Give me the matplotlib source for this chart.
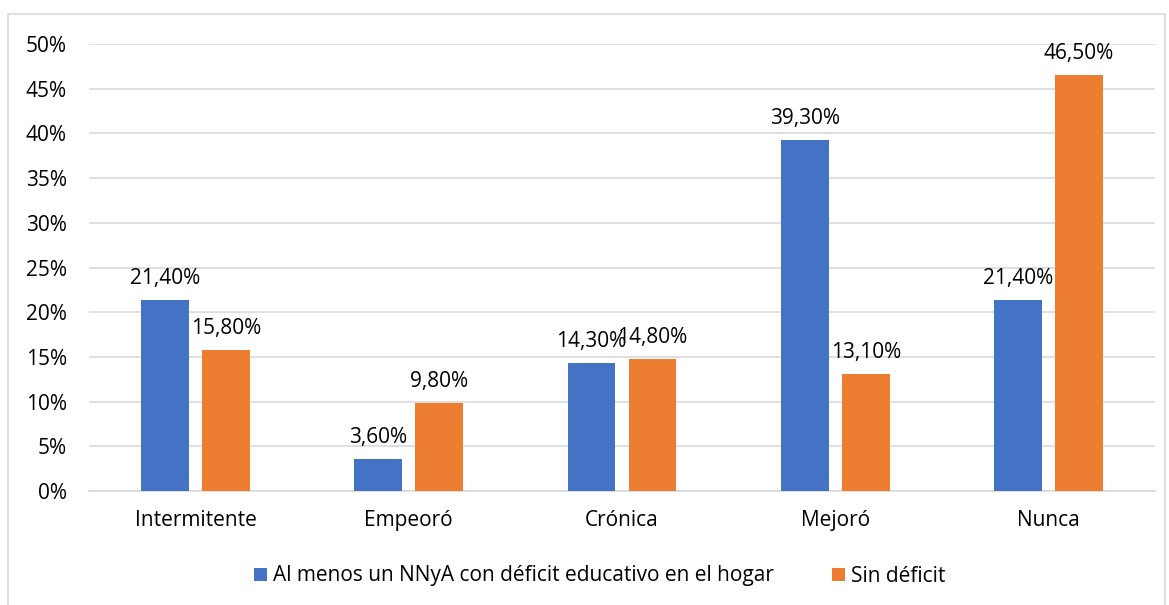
import matplotlib.pyplot as plt
import numpy as np
from matplotlib.patches import Rectangle

# datos
categorias = ["Intermitente", "Empeoró", "Crónica", "Mejoró", "Nunca"]
con_deficit = [21.4, 3.6, 14.3, 39.3, 21.4]
sin_deficit = [15.8, 9.8, 14.8, 13.1, 46.5]
series = ["Al menos un NNyA con déficit educativo en el hogar", "Sin déficit"]
colores = ["#4472C4", "#ED7D31"]

plt.rcParams['font.family'] = ['Open Sans', 'DejaVu Sans']
fs = 15

fig = plt.figure(figsize=(11.69, 6.05), dpi=100)
ax = fig.add_axes([89 / 1169, 1 - 491 / 605, 1066 / 1169, 447 / 605])

# borde del gráfico
fig.patches.append(Rectangle((8 / 1169, -0.01), 1157 / 1169, 1 - 14 / 605 + 0.01,
                             transform=fig.transFigure, fill=False,
                             edgecolor='#D9D9D9', linewidth=1.2))

x = np.arange(len(categorias))
ancho = 0.225
desp = 0.143

b1 = ax.bar(x - desp, con_deficit, ancho, color=colores[0], label=series[0], zorder=3)
b2 = ax.bar(x + desp, sin_deficit, ancho, color=colores[1], label=series[1], zorder=3)

for barras, vals in [(b1, con_deficit), (b2, sin_deficit)]:
    for b, v in zip(barras, vals):
        ax.annotate(f"{v:.2f}%".replace(".", ","),
                    (b.get_x() + b.get_width() / 2, v),
                    xytext=(0, 8), textcoords='offset points',
                    ha='center', va='bottom', fontsize=fs, color='#000000')

ax.set_xlim(-0.5, len(categorias) - 0.5)
ax.set_ylim(0, 50)
ax.set_yticks(np.arange(0, 51, 5))
ax.set_yticklabels([f"{t}%" for t in range(0, 51, 5)])
ax.set_xticks(x)
ax.set_xticklabels(categorias)
ax.tick_params(axis='both', length=0, labelsize=fs, colors='#000000')
ax.tick_params(axis='y', pad=16)
ax.tick_params(axis='x', pad=14)
ax.grid(axis='y', color='#D9D9D9', linewidth=1.2, zorder=0)
for s in ['top', 'right', 'left']:
    ax.spines[s].set_visible(False)
ax.spines['bottom'].set_color('#D9D9D9')
ax.spines['bottom'].set_linewidth(1.2)

fig.legend(loc='center', bbox_to_anchor=(600 / 1169, 1 - 576 / 605), ncol=2,
           frameon=False, fontsize=fs, handlelength=0.6, handleheight=0.6,
           handletextpad=0.3, columnspacing=2.8)

fig.savefig("out.png", dpi=100)
